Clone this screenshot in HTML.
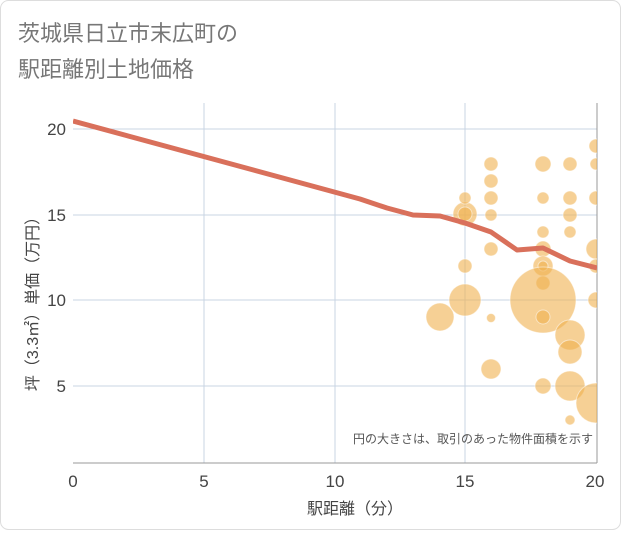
<!DOCTYPE html><html><head><meta charset="utf-8"><style>
body{margin:0;background:#fff}
.t{font-family:"Liberation Sans","Noto Sans CJK JP",sans-serif}
</style></head><body>
<svg width="621" height="530" xmlns="http://www.w3.org/2000/svg" class="t">
<rect x="0.5" y="0.5" width="620" height="529" rx="8" fill="#fff" stroke="#ddd"/>
<text x="18" y="41" font-size="22" fill="#777">茨城県日立市末広町の</text>
<text x="18" y="77" font-size="22" fill="#777">駅距離別土地価格</text>
<defs><clipPath id="c"><rect x="73" y="103" width="524" height="360"/></clipPath></defs>
<g stroke="#c8d4e3" stroke-width="1">
<line x1="204" y1="103" x2="204" y2="463"/><line x1="335" y1="103" x2="335" y2="463"/><line x1="465" y1="103" x2="465" y2="463"/>
<line x1="73" y1="129" x2="597" y2="129"/><line x1="73" y1="215" x2="597" y2="215"/><line x1="73" y1="300" x2="597" y2="300"/><line x1="73" y1="386" x2="597" y2="386"/>
</g>
<line x1="597" y1="103" x2="597" y2="463" stroke="#999"/>
<line x1="73" y1="463" x2="597" y2="463" stroke="#999"/>
<g clip-path="url(#c)" fill="#f0b14e" fill-opacity="0.6" stroke="#fff" stroke-opacity="0.5">
<circle cx="440" cy="317" r="14"/><circle cx="465" cy="300" r="16"/><circle cx="465" cy="266" r="7"/><circle cx="465" cy="214" r="12"/><circle cx="465" cy="214" r="7"/><circle cx="465" cy="198" r="6"/>
<circle cx="491" cy="164" r="7"/><circle cx="491" cy="181" r="7"/><circle cx="491" cy="198" r="7"/><circle cx="491" cy="215" r="6"/><circle cx="491" cy="249" r="7"/><circle cx="491" cy="318" r="4.5"/><circle cx="491" cy="369" r="10"/>
<circle cx="543" cy="164" r="8"/><circle cx="543" cy="198" r="6"/><circle cx="543" cy="232" r="6"/><circle cx="543" cy="249" r="8"/><circle cx="543" cy="266" r="10"/><circle cx="543" cy="266" r="5"/><circle cx="543" cy="283" r="7"/><circle cx="543" cy="300" r="33"/><circle cx="543" cy="317" r="7"/><circle cx="543" cy="386" r="8"/>
<circle cx="570" cy="164" r="7"/><circle cx="570" cy="198" r="7"/><circle cx="570" cy="215" r="7"/><circle cx="570" cy="232" r="6"/><circle cx="570" cy="335" r="15"/><circle cx="570" cy="352" r="12"/><circle cx="570" cy="386" r="15"/><circle cx="570" cy="420" r="5"/>
<circle cx="596" cy="146" r="7"/><circle cx="596" cy="164" r="6"/><circle cx="596" cy="198" r="7"/><circle cx="596" cy="249" r="10"/><circle cx="596" cy="266" r="7"/><circle cx="596" cy="300" r="8"/><circle cx="596" cy="403" r="20"/>
</g>
<polyline clip-path="url(#c)" fill="none" stroke="#d9705b" stroke-width="5" stroke-linejoin="round" points="73,121 360,199 387,208 413,215 440,216 465,223 491,232 517,250 543,248 570,261 597,268"/>
<g font-size="17" fill="#444" text-anchor="end">
<text x="66" y="135">20</text><text x="66" y="221">15</text><text x="66" y="306">10</text><text x="66" y="392">5</text>
</g>
<g font-size="17" fill="#444" text-anchor="middle">
<text x="73" y="487">0</text><text x="204" y="487">5</text><text x="335" y="487">10</text><text x="465" y="487">15</text><text x="595" y="487">20</text>
</g>
<text x="355" y="514" font-size="16" fill="#444" text-anchor="middle">駅距離（分）</text>
<text transform="translate(38,300) rotate(-90)" font-size="16" fill="#444" text-anchor="middle">坪（3.3㎡）単価（万円）</text>
<text x="593" y="443" font-size="12" fill="#555" text-anchor="end">円の大きさは、取引のあった物件面積を示す</text>
</svg>
</body></html>
